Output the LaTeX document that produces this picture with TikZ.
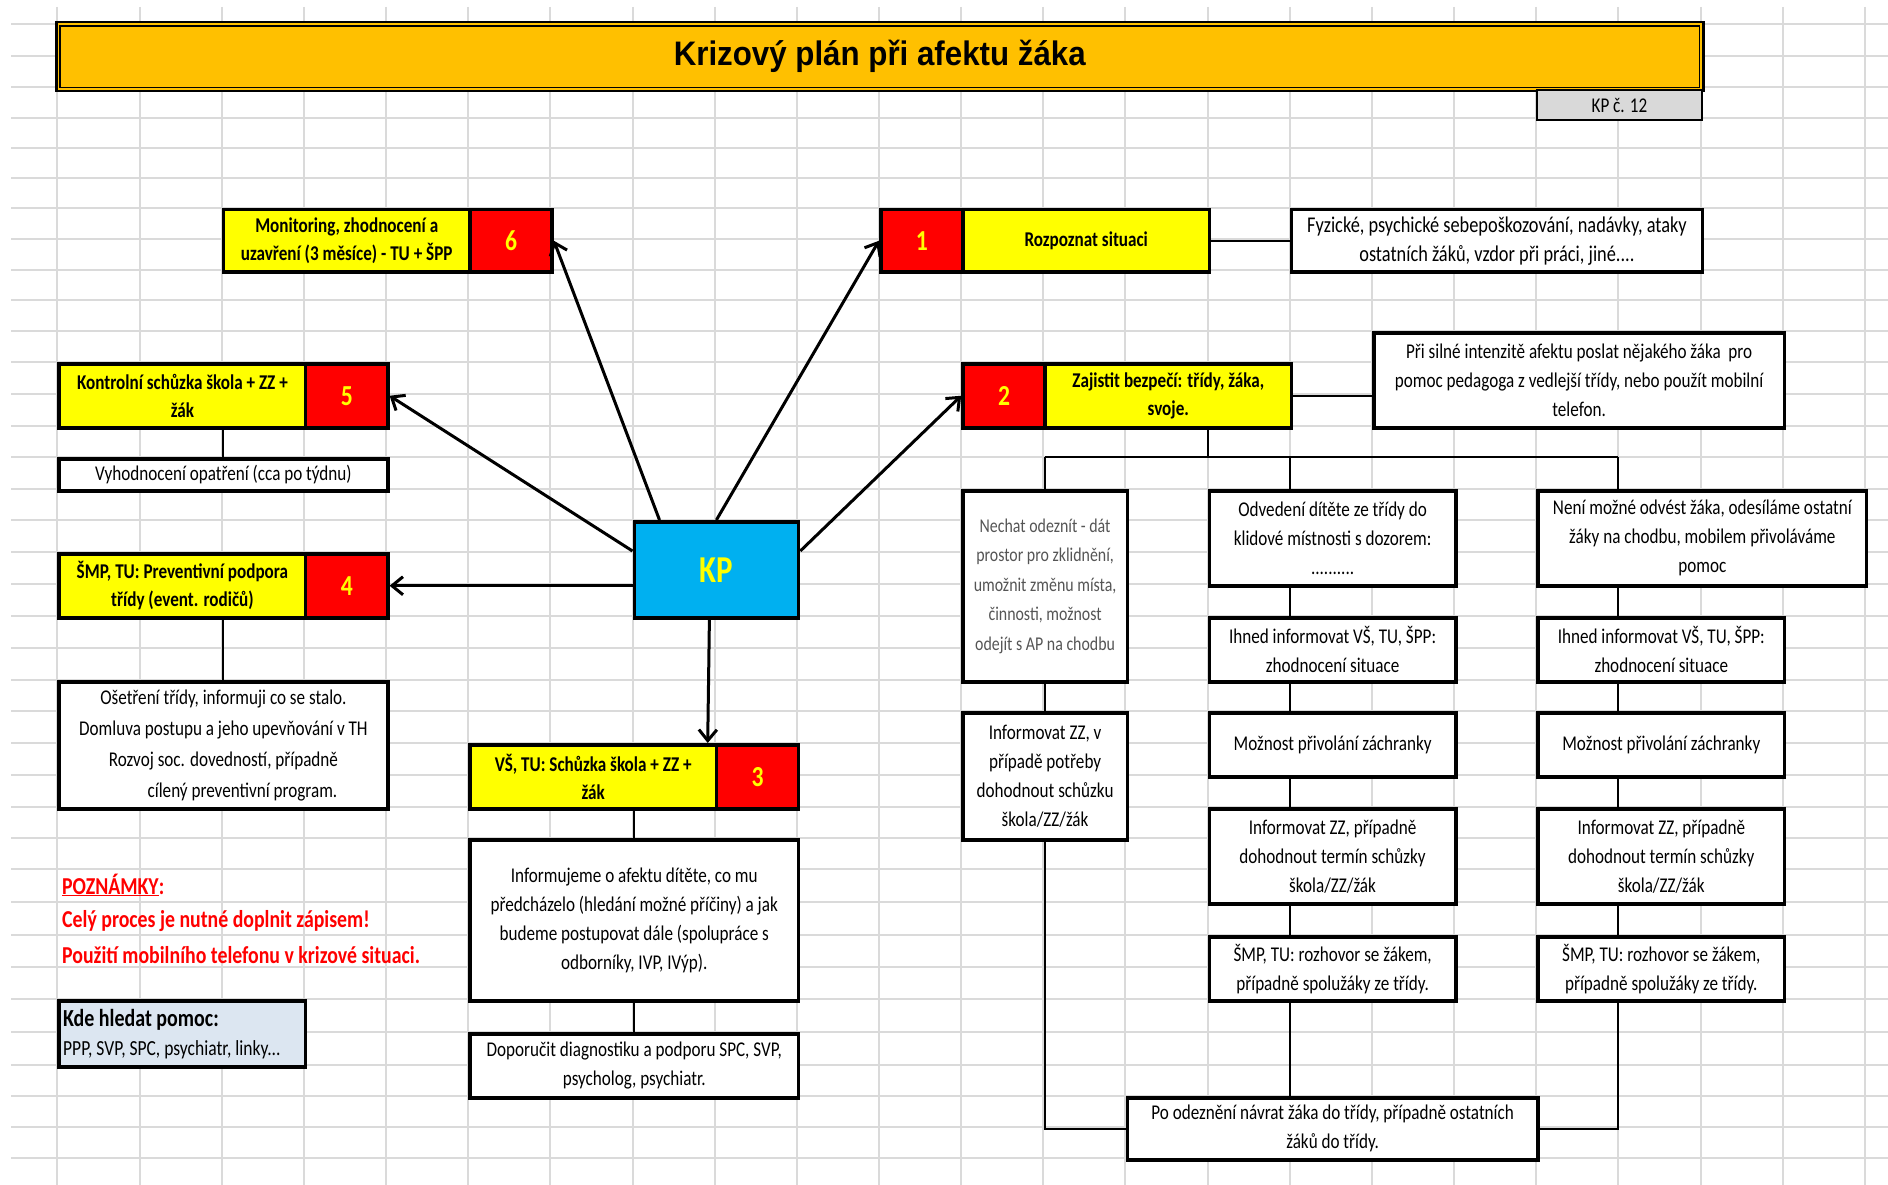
\documentclass[tikz,border=0pt]{standalone}
\usepackage{fontspec}
\setmainfont{Carlito}[FakeStretch=0.815]
\newfontfamily\titlefont{Liberation Sans}[FakeStretch=0.92]
\usetikzlibrary{arrows.meta,calc}

\definecolor{gridc}{HTML}{DADADA}
\definecolor{titlefill}{HTML}{FFC000}
\definecolor{stepyellow}{HTML}{FFFF00}
\definecolor{stepred}{HTML}{FF0000}
\definecolor{hubblue}{HTML}{00B0F0}
\definecolor{tagfill}{HTML}{D9D9D9}
\definecolor{helpfill}{HTML}{DCE6F1}
\definecolor{softtext}{HTML}{555555}
\definecolor{notered}{HTML}{FF0000}

\tikzset{
  gridline/.style={draw=gridc, line width=2pt},
  sz/.style 2 args={minimum width=#1pt, minimum height=#2pt},
  cell/.style={draw=black, line width=3.5pt, anchor=north west, inner sep=0pt,
    align=center, font=\fontsize{21}{29}\selectfont},
  textbox/.style={cell, fill=white},
  stepbox/.style={cell, fill=stepyellow, font=\fontsize{21}{28}\selectfont\bfseries},
  numbox/.style={cell, fill=stepred, text=stepyellow, font=\fontsize{29}{30}\selectfont\bfseries},
  wire/.style={draw=black, line width=2pt},
  kparrow/.style={draw=black, line width=3pt, -{Straight Barb[length=11pt,width=18pt]}},
  note/.style={anchor=west, inner sep=0pt, text=notered, font=\fontsize{24.3}{28}\selectfont\bfseries},
}

\begin{document}
\begin{tikzpicture}[x=1pt,y=-1pt]
\path[use as bounding box, fill=white] (0,0) rectangle (1888,1185);

% spreadsheet grid
\foreach \k in {0,...,22}
  \draw[gridline] ({57.4+82.16*\k},7) -- ({57.4+82.16*\k},1185);
\foreach \r in {24,56,87,118,148,178,208,239,270,300,331,362,394,426,457,489,520,552,584,616,648,680,711,743,775,807,838,869,902,935,967,999,1032,1065,1096,1127,1158}
  \draw[gridline] (11,\r) -- (1888,\r);

% title bar with double frame
\node[draw=black, line width=2.5pt, fill=titlefill, anchor=north west, inner sep=0pt,
  sz={1647}{69}, font=\titlefont\fontsize{34}{40}\selectfont\bfseries] (title) at (55,21) {Krizový plán při afektu žáka};
\draw[line width=1.5pt] ($(title.north west)+(5,5)$) rectangle ($(title.south east)+(-5,-5)$);
\node[cell, fill=tagfill, line width=2pt, sz={164.3}{30}] (tag) at (1536.3,89) {KP č. 12};

% central hub
\node[cell, fill=hubblue, text=stepyellow, sz={164.3}{96}, font=\fontsize{38}{40}\selectfont\bfseries] (kp) at (632.5,520) {KP};

% numbered steps
\node[stepbox, sz={246.5}{62}] (s6) at (221.7,208) {Monitoring, zhodnocení a\\uzavření (3 měsíce) - TU + ŠPP};
\node[numbox, sz={82.2}{62}] (n6) at (468.2,208) {6};

\node[stepbox, sz={246.5}{64}] (s5) at (57.4,362) {Kontrolní schůzka škola + ZZ +\\žák};
\node[numbox, sz={82.2}{64}] (n5) at (303.9,362) {5};

\node[stepbox, sz={246.5}{64}] (s4) at (57.4,552) {ŠMP, TU: Preventivní podpora\\třídy (event. rodičů)};
\node[numbox, sz={82.2}{64}] (n4) at (303.9,552) {4};

\node[stepbox, sz={246.5}{64}] (s3) at (468.2,743) {VŠ, TU: Schůzka škola + ZZ +\\žák};
\node[numbox, sz={82.2}{64}] (n3) at (714.7,743) {3};

\node[numbox, sz={82.2}{62}] (n1) at (879,208) {1};
\node[stepbox, sz={246.5}{62}] (s1) at (961.2,208) {Rozpoznat situaci};

\node[numbox, sz={82.2}{64}] (n2) at (961.2,362) {2};
\node[stepbox, sz={246.5}{64}] (s2) at (1043.3,362) {Zajistit bezpečí: třídy, žáka,\\svoje.};

% left side details
\node[textbox, sz={328.6}{32}] (vyh) at (57.4,457) {Vyhodnocení opatření (cca po týdnu)};
\node[textbox, sz={328.6}{127}, font=\fontsize{21}{31}\selectfont] (ose) at (57.4,680)
  {Ošetření třídy, informuji co se stalo.\\Domluva postupu a jeho upevňování v TH\\Rozvoj soc. dovedností, případně\\\hspace*{38pt}cílený preventivní program.};

% step 3 details
\node[textbox, sz={328.6}{161}] (infm) at (468.2,838)
  {Informujeme o afektu dítěte, co mu\\předcházelo (hledání možné příčiny) a jak\\budeme postupovat dále (spolupráce s\\odborníky, IVP, IVýp).};
\node[textbox, sz={328.6}{64}] (dop) at (468.2,1032)
  {Doporučit diagnostiku a podporu SPC, SVP,\\psycholog, psychiatr.};

% step 1 and 2 details
\node[textbox, sz={410.8}{62}, font=\fontsize{22.5}{29}\selectfont] (fyz) at (1289.8,208)
  {Fyzické, psychické sebepoškozování, nadávky, ataky\\ostatních žáků, vzdor při práci, jiné....};
\node[textbox, sz={410.8}{95}] (sil) at (1372,331)
  {Při silné intenzitě afektu poslat nějakého žáka\ \ pro\\pomoc pedagoga z vedlejší třídy, nebo použít mobilní\\telefon.};

% three branches of step 2
\node[textbox, sz={164.3}{191}, text=softtext, font=\fontsize{19.5}{29.5}\selectfont] (nech) at (961.2,489)
  {Nechat odeznít - dát\\prostor pro zklidnění,\\umožnit změnu místa,\\činnosti, možnost\\odejít s AP na chodbu};
\node[textbox, sz={164.3}{127}] (infv) at (961.2,711)
  {Informovat ZZ, v\\případě potřeby\\dohodnout schůzku\\škola/ZZ/žák};

\node[textbox, sz={246.5}{95}] (odv) at (1207.6,489)
  {Odvedení dítěte ze třídy do\\klidové místnosti s dozorem:\\..........};
\node[textbox, sz={246.5}{64}] (ih1) at (1207.6,616) {Ihned informovat VŠ, TU, ŠPP:\\zhodnocení situace};
\node[textbox, sz={246.5}{64}] (moz1) at (1207.6,711) {Možnost přivolání záchranky};
\node[textbox, sz={246.5}{95}] (inf1) at (1207.6,807) {Informovat ZZ, případně\\dohodnout termín schůzky\\škola/ZZ/žák};
\node[textbox, sz={246.5}{64}] (smp1) at (1207.6,935) {ŠMP, TU: rozhovor se žákem,\\případně spolužáky ze třídy.};

\node[textbox, sz={328.6}{95}] (nen) at (1536.3,489)
  {Není možné odvést žáka, odesíláme ostatní\\žáky na chodbu, mobilem přivoláváme\\pomoc};
\node[textbox, sz={246.5}{64}] (ih2) at (1536.3,616) {Ihned informovat VŠ, TU, ŠPP:\\zhodnocení situace};
\node[textbox, sz={246.5}{64}] (moz2) at (1536.3,711) {Možnost přivolání záchranky};
\node[textbox, sz={246.5}{95}] (inf2) at (1536.3,807) {Informovat ZZ, případně\\dohodnout termín schůzky\\škola/ZZ/žák};
\node[textbox, sz={246.5}{64}] (smp2) at (1536.3,935) {ŠMP, TU: rozhovor se žákem,\\případně spolužáky ze třídy.};

\node[textbox, sz={410.8}{62}] (po) at (1125.5,1096)
  {Po odeznění návrat žáka do třídy, případně ostatních\\žáků do třídy.};

% notes and help box
\node[note] (nt0) at (62,885) {\underline{POZNÁMKY}:};
\node[note] (nt1) at (62,921) {Celý proces je nutné doplnit zápisem!};
\node[note] (nt2) at (62,955) {Použití mobilního telefonu v krizové situaci.};
\node[cell, fill=helpfill, sz={246.5}{66}, align=flush left, text width=238.5pt, inner xsep=4pt] (help) at (57.4,999)
  {{\fontsize{24.5}{31}\selectfont\bfseries Kde hledat pomoc:}\\\fontsize{21.5}{29}\selectfont PPP, SVP, SPC, psychiatr, linky...};

% arrows from the hub
\draw[kparrow] ($(kp.north west)+(27,0)$) -- (n6.east);
\draw[kparrow] (kp.north) -- (n1.west);
\draw[kparrow] ($(kp.north east)+(0,31)$) -- (n2.west);
\draw[kparrow] ($(kp.north west)+(0,31)$) -- (n5.east);
\draw[kparrow] (kp.west |- n4.east) -- (n4.east);
\draw[kparrow] ($(kp.south)+(-7,0)$) -- ($(n3.north west)+(-7,0)$);

% plain connectors
\draw[wire] (s1.east) -- (fyz.west);
\draw[wire] (s2.east) -- (s2.east -| sil.west);
\draw[wire] (vyh.north |- s5.south) -- (vyh.north);
\draw[wire] (ose.north |- s4.south) -- (ose.north);
\draw[wire] (infm.north |- s3.south) -- (infm.north);
\draw[wire] (infm.south) -- (dop.north);

\coordinate (split) at (1207.6,457);
\coordinate (jm) at (1289.8,457);
\coordinate (jr) at (1618.4,457);
\draw[wire] (split |- s2.south) -- (split);
\draw[wire] (nech.north |- split) -- (jr);
\draw[wire] (nech.north |- split) -- (nech.north);
\draw[wire] (jm) -- (jm |- odv.north);
\draw[wire] (jr) -- (jr |- nen.north);

\draw[wire] (nech.south) -- (infv.north);
\draw[wire] (infv.south) -- (infv.south |- po.west) -- (po.west);

\draw[wire] (jm |- odv.south) -- (jm |- ih1.north);
\draw[wire] (jm |- ih1.south) -- (jm |- moz1.north);
\draw[wire] (jm |- moz1.south) -- (jm |- inf1.north);
\draw[wire] (jm |- inf1.south) -- (jm |- smp1.north);
\draw[wire] (jm |- smp1.south) -- (jm |- po.north);

\draw[wire] (jr |- nen.south) -- (jr |- ih2.north);
\draw[wire] (jr |- ih2.south) -- (jr |- moz2.north);
\draw[wire] (jr |- moz2.south) -- (jr |- inf2.north);
\draw[wire] (jr |- inf2.south) -- (jr |- smp2.north);
\draw[wire] (jr |- smp2.south) -- (jr |- po.east) -- (po.east);
\end{tikzpicture}
\end{document}
